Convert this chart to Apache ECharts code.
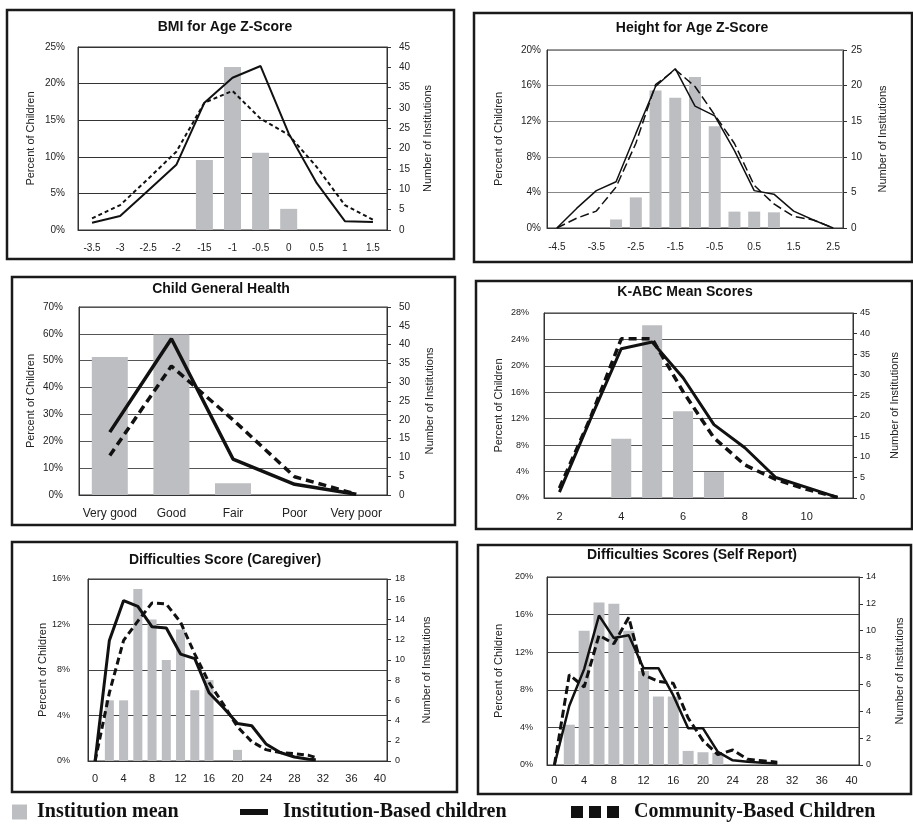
<!DOCTYPE html>
<html><head><meta charset="utf-8">
<script src="https://cdn.jsdelivr.net/npm/echarts@6/dist/echarts.min.js"></script>
<style>html,body{margin:0;padding:0;background:#fff}#c{width:913px;height:825px}</style>
</head><body><div id="c"></div>
<script>
// ---------- DATA ----------
// Panel 1: BMI for Age Z-Score
const bmiCats = ['-3.5','-3','-2.5','-2','-15','-1','-0.5','0','0.5','1','1.5'];
const bmiBars = [null,null,null,null,17.2,40.1,19.0,5.2,null,null,null];
const bmiInst = [1.0,1.9,5.4,8.9,17.4,20.8,22.4,13.2,6.4,1.2,1.1];
const bmiComm = [1.6,3.4,7.0,10.7,17.4,19.0,15.2,13.0,8.6,3.4,1.4];
// Panel 2: Height for Age Z-Score
const hfaCats = ['-4.5','-4','-3.5','-3','-2.5','-2','-1.5','-1','-0.5','0','0.5','1','1.5','2','2.5'];
const hfaBars = [null,null,null,1.2,4.3,19.3,18.3,21.2,14.3,2.3,2.3,2.2,null,null,null];
const hfaInst = [0,2.2,4.2,5.2,10.6,15.9,17.9,13.7,12.6,8.7,4.2,3.8,1.9,0.9,0];
const hfaComm = [0,1.1,1.9,4.6,9.5,16.1,17.8,15.9,12.7,9.5,4.8,2.7,1.3,0.9,0];
// Panel 3: Child General Health
const ghCats = ['Very good','Good','Fair','Poor','Very poor'];
const ghBars = [36.7,42.7,3.1,null,null];
const ghInst = [23.4,58.2,13.4,4.0,0.3];
const ghComm = [14.7,48.0,28.0,6.8,0.3];
// Panel 4: K-ABC Mean Scores
const kCats = ['2','3','4','5','6','7','8','9','10','11'];
const kBars = [null,null,14.4,42.0,21.1,6.3,null,null,null,null];
const kInst = [0.9,11.9,22.6,23.6,18.2,11.1,7.6,3.1,1.6,0.1];
const kComm = [1.5,12.1,24.1,24.1,16.1,9.1,5.0,2.8,1.3,0.1];
// Panels 5 & 6: score categories
const sdqCats = ['-1','0','1','2','3','4','5','6','7','8','9','10','11','12','13','14','15','16','17','18','19','20',
  '21','22','23','24','25','26','27','28','29','30','31','32','33','34','35','36','37','38','39','40','41'];
// Panel 5: Difficulties Score (Caregiver)
const cgBarX = [2,4,6,8,10,12,14,16,20];
const cgBars = [6,6,17,14,10,13,7,8,1.1];
const cgLineX = [0,2,4,6,8,10,12,14,16,18,20,22,24,26,28,30,31];
const cgInst = [0,10.6,14.1,13.6,11.8,11.7,9.4,9.0,6.0,4.7,3.3,3.1,1.5,0.75,0.35,0.15,0.1];
const cgComm = [0,6.0,10.6,12.3,13.9,13.8,12.2,9.4,6.9,5.0,3.0,1.7,1.0,0.74,0.65,0.5,0.3];
// Panel 6: Difficulties Scores (Self Report)
const srBarX = [2,4,6,8,10,12,14,16,18,20,22];
const srBars = [3,10,12.1,12,10,7,5.1,5.1,1.05,0.95,0.9];
const srLineX = [0,2,4,6,8,10,12,14,16,18,20,22,24,26,28,30];
const srInst = [0,6.3,10.2,15.9,13.5,13.8,10.3,10.3,7.4,3.9,3.9,1.4,0.5,0.35,0.25,0.15];
const srComm = [0,9.6,8.3,13.8,12.9,15.7,9.6,8.9,8.7,5.0,2.6,1.1,1.6,0.6,0.45,0.3];

// ---------- BUILD ----------
const FONT = 'Liberation Sans, Arial, sans-serif';
const BAR = '#bdbec1', INK = '#111';
const pts = (xs, ys) => xs.map((x, k) => [String(x), ys[k]]);
const every4 = (idx, val) => Number(val) % 4 === 0;

const panels = [
  {title:'BMI for Age Z-Score', tx:225, ty:27, box:[7,10,447,249], grid:[78,47,309,183], cats:bmiCats, gap:true, iv:0,
   bars:bmiBars, inst:bmiInst, comm:bmiComm, yMax:25, yInt:5, rMax:45, rInt:5, ym:[13,12], ng:[42,35], xm:13, xf:10, yf:10,
   bw:17, sw:2, dw:2, dash:[4,3], gc:'#333'},
  {title:'Height for Age Z-Score', tx:692, ty:28, box:[474,13,438,249], grid:[547,50,296,178], cats:hfaCats, gap:true, iv:1,
   bars:hfaBars, inst:hfaInst, comm:hfaComm, yMax:20, yInt:4, rMax:25, rInt:5, ym:[6,8], ng:[43,34], xm:14, xf:10, yf:10,
   bw:12, sw:1.5, dw:1.5, dash:[9,4], gc:'#888'},
  {title:'Child General Health', tx:221, ty:289, box:[12,277,443,248], grid:[79,307,308,188], cats:ghCats, gap:true, iv:0,
   bars:ghBars, inst:ghInst, comm:ghComm, yMax:70, yInt:10, rMax:50, rInt:5, ym:[16,12], ng:[43,37], xm:13, xf:12, yf:10,
   bw:36, sw:3.5, dw:3.5, dash:[8,5], gc:'#555'},
  {title:'K-ABC Mean Scores', tx:685, ty:292, box:[476,281,436,248], grid:[544,313,309,185], cats:kCats, gap:true, iv:1,
   bars:kBars, inst:kInst, comm:kComm, yMax:28, yInt:4, rMax:45, rInt:5, ym:[15,7], ng:[40,36], xm:13, xf:11, yf:9,
   bw:20, sw:3, dw:3.5, dash:[8,5], gc:'#555'},
  {title:'Difficulties Score (Caregiver)', tx:225, ty:560, box:[12,542,445,250], grid:[88,579,299,182], cats:sdqCats, gap:false, iv:every4,
   bars:pts(cgBarX,cgBars), inst:pts(cgLineX,cgInst), comm:pts(cgLineX,cgComm), yMax:16, yInt:4, rMax:18, rInt:2, ym:[18,8], ng:[40,34], xm:12, xf:11, yf:9,
   bw:9, sw:3, dw:3, dash:[7,4], gc:'#444'},
  {title:'Difficulties Scores (Self Report)', tx:692, ty:555, box:[478,545,433,249], grid:[547,577,312,188], cats:sdqCats, gap:false, iv:every4,
   bars:pts(srBarX,srBars), inst:pts(srLineX,srInst), comm:pts(srLineX,srComm), yMax:20, yInt:4, rMax:14, rInt:2, ym:[14,7], ng:[43,35], xm:10, xf:11, yf:9,
   bw:11, sw:2.5, dw:3, dash:[8,4], gc:'#444'}
];

const grids = [], xAxes = [], yAxes = [], series = [], graphics = [];
panels.forEach((p, i) => {
  grids.push({left:p.grid[0], top:p.grid[1], width:p.grid[2], height:p.grid[3], show:true, borderColor:'#333', borderWidth:1});
  xAxes.push({type:'category', gridIndex:i, data:p.cats, boundaryGap:p.gap,
    axisTick:{show:false}, axisLine:{show:true, lineStyle:{color:'#333'}},
    axisLabel:{interval:p.iv, margin:p.xm, fontSize:p.xf, color:'#222', fontFamily:FONT}, splitLine:{show:false}});
  yAxes.push({type:'value', gridIndex:i, position:'left', min:0, max:p.yMax, interval:p.yInt,
    name:'Percent of Children', nameLocation:'middle', nameGap:p.ng[0], nameRotate:90,
    nameTextStyle:{fontSize:11, color:'#222', fontFamily:FONT},
    axisLine:{show:true, lineStyle:{color:'#333'}}, axisTick:{show:false},
    axisLabel:{formatter:'{value}%', margin:p.ym[0], fontSize:p.yf, color:'#222', fontFamily:FONT},
    splitLine:{show:true, lineStyle:{color:p.gc, width:1}}});
  yAxes.push({type:'value', gridIndex:i, position:'right', min:0, max:p.rMax, interval:p.rInt,
    name:'Number of Institutions', nameLocation:'middle', nameGap:p.ng[1], nameRotate:90,
    nameTextStyle:{fontSize:11, color:'#222', fontFamily:FONT},
    axisLine:{show:true, lineStyle:{color:'#333'}}, axisTick:{show:true, length:4, lineStyle:{color:'#333'}},
    axisLabel:{margin:p.ym[1], fontSize:p.yf, color:'#222', fontFamily:FONT}, splitLine:{show:false}});
  series.push({type:'bar', name:'Institution mean', xAxisIndex:i, yAxisIndex:2*i+1, data:p.bars,
    barWidth:p.bw, itemStyle:{color:BAR}, z:1});
  series.push({type:'line', name:'Institution-Based children', xAxisIndex:i, yAxisIndex:2*i, data:p.inst,
    symbol:'none', lineStyle:{color:INK, width:p.sw, type:'solid'}, itemStyle:{color:INK}, z:3});
  series.push({type:'line', name:'Community-Based Children', xAxisIndex:i, yAxisIndex:2*i, data:p.comm,
    symbol:'none', lineStyle:{color:INK, width:p.dw, type:p.dash}, itemStyle:{color:INK}, z:4});
  graphics.push({type:'rect', shape:{x:p.box[0], y:p.box[1], width:p.box[2], height:p.box[3]},
    style:{fill:'none', stroke:'#1a1a1a', lineWidth:2.5}, silent:true});
  graphics.push({type:'text', x:p.tx, y:p.ty, silent:true,
    style:{text:p.title, align:'center', verticalAlign:'middle', fontSize:14, fontWeight:'bold', fontFamily:FONT, fill:'#111'}});
});

const LT = {fontFamily:'Liberation Serif, Times New Roman, serif', fontWeight:'bold', fontSize:20, color:'#111'};
const option = {
  animation:false,
  backgroundColor:'#fff',
  grid:grids, xAxis:xAxes, yAxis:yAxes, series:series, graphic:graphics,
  legend:[
    {left:12, top:802, padding:0, itemWidth:15, itemHeight:15, textStyle:LT, formatter:' {name}',
     data:[{name:'Institution mean', icon:'rect', itemStyle:{color:BAR, borderWidth:0}}]},
    {left:240, top:802, padding:0, itemWidth:28, itemHeight:6, textStyle:LT, formatter:'  {name}',
     data:[{name:'Institution-Based children', icon:'rect', itemStyle:{color:INK, borderWidth:0}}]},
    {left:571, top:802, padding:0, itemWidth:48, itemHeight:12, textStyle:LT, formatter:'  {name}',
     data:[{name:'Community-Based Children', icon:'path://M0,0h12v12h-12z M18,0h12v12h-12z M36,0h12v12h-12z', itemStyle:{color:INK, borderWidth:0}}]}
  ]
};
const chart = echarts.init(document.getElementById('c'), null, {renderer:'canvas'});
chart.setOption(option);
</script></body></html>
